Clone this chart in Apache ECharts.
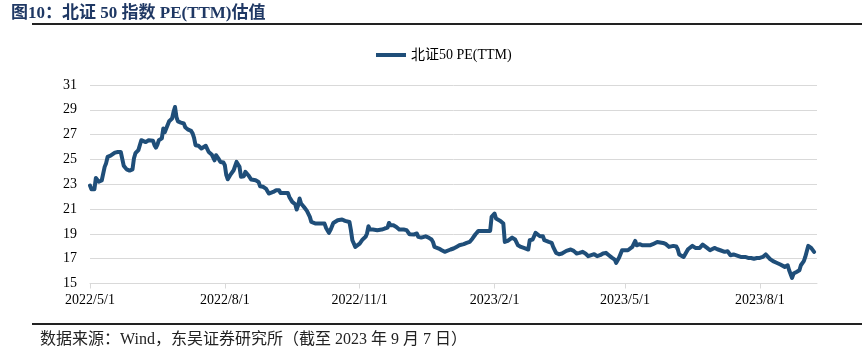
<!DOCTYPE html>
<html>
<head>
<meta charset="utf-8">
<script src="https://cdn.jsdelivr.net/npm/echarts@6/dist/echarts.min.js"></script>
<style>
html,body{margin:0;padding:0;background:#fff;}
#c{width:862px;height:359px;}
</style>
</head>
<body>
<div id="c"></div>
<script>
const titleText = '图10：北证 50 指数 PE(TTM)估值';
const sourceText = '数据来源：Wind，东吴证券研究所（截至 2023 年 9 月 7 日）';
const seriesName = '北证50 PE(TTM)';
const xTickDates = ['2022-05-01','2022-08-01','2022-11-01','2023-02-01','2023-05-01','2023-08-01'];
const yTicks = [15,17,19,21,23,25,27,29,31];

const dates = [
'2022-05-01','2022-05-02','2022-05-04','2022-05-05','2022-05-07','2022-05-09','2022-05-11','2022-05-12','2022-05-13','2022-05-15',
'2022-05-18','2022-05-20','2022-05-22','2022-05-23','2022-05-24','2022-05-26','2022-05-28','2022-05-30','2022-05-31','2022-06-01',
'2022-06-03','2022-06-04','2022-06-05','2022-06-06','2022-06-08','2022-06-10','2022-06-13','2022-06-14','2022-06-15','2022-06-16',
'2022-06-17','2022-06-19','2022-06-20','2022-06-21','2022-06-22','2022-06-24','2022-06-25','2022-06-26','2022-06-27','2022-06-28',
'2022-06-29','2022-06-30','2022-07-02','2022-07-04','2022-07-05','2022-07-07','2022-07-09','2022-07-10','2022-07-11','2022-07-12',
'2022-07-14','2022-07-16','2022-07-17','2022-07-19','2022-07-20','2022-07-21','2022-07-23','2022-07-24','2022-07-25','2022-07-26',
'2022-07-28','2022-07-29','2022-07-31','2022-08-01','2022-08-02','2022-08-03','2022-08-05','2022-08-07','2022-08-09','2022-08-10',
'2022-08-11','2022-08-12','2022-08-14','2022-08-15','2022-08-17','2022-08-18','2022-08-19','2022-08-22','2022-08-23','2022-08-24',
'2022-08-25','2022-08-27','2022-08-29','2022-08-31','2022-09-01','2022-09-03','2022-09-05','2022-09-07','2022-09-08','2022-09-11',
'2022-09-13','2022-09-14','2022-09-16','2022-09-18','2022-09-19','2022-09-20','2022-09-21','2022-09-22','2022-09-24','2022-09-25',
'2022-09-26','2022-09-28','2022-09-29','2022-10-02','2022-10-05','2022-10-08','2022-10-09','2022-10-11','2022-10-12','2022-10-14',
'2022-10-15','2022-10-17','2022-10-18','2022-10-20','2022-10-22','2022-10-23','2022-10-25','2022-10-26','2022-10-27','2022-10-29',
'2022-10-30','2022-11-01','2022-11-03','2022-11-05','2022-11-06','2022-11-07','2022-11-08','2022-11-10','2022-11-13','2022-11-14',
'2022-11-16','2022-11-18','2022-11-20','2022-11-21','2022-11-22','2022-11-24','2022-11-26','2022-11-28','2022-11-29','2022-12-01',
'2022-12-03','2022-12-04','2022-12-05','2022-12-08','2022-12-10','2022-12-11','2022-12-13','2022-12-16','2022-12-18','2022-12-20',
'2022-12-21','2022-12-22','2022-12-25','2022-12-27','2022-12-29','2022-12-30','2023-01-02','2023-01-04','2023-01-06','2023-01-08',
'2023-01-11','2023-01-13','2023-01-15','2023-01-17','2023-01-19','2023-01-21','2023-01-23','2023-01-27','2023-01-29','2023-01-30',
'2023-02-01','2023-02-02','2023-02-03','2023-02-05','2023-02-07','2023-02-08','2023-02-10','2023-02-11','2023-02-13','2023-02-15',
'2023-02-17','2023-02-19','2023-02-21','2023-02-22','2023-02-24','2023-02-25','2023-02-27','2023-03-01','2023-03-02','2023-03-04',
'2023-03-06','2023-03-07','2023-03-10','2023-03-12','2023-03-13','2023-03-15','2023-03-17','2023-03-19','2023-03-22','2023-03-23',
'2023-03-25','2023-03-27','2023-03-29','2023-03-31','2023-04-02','2023-04-04','2023-04-06','2023-04-08','2023-04-10','2023-04-12',
'2023-04-14','2023-04-16','2023-04-18','2023-04-20','2023-04-22','2023-04-24','2023-04-25','2023-04-27','2023-04-29','2023-05-01',
'2023-05-03','2023-05-04','2023-05-06','2023-05-07','2023-05-08','2023-05-09','2023-05-11','2023-05-13','2023-05-16','2023-05-18',
'2023-05-20','2023-05-23','2023-05-24','2023-05-27','2023-05-29','2023-05-31','2023-06-01','2023-06-03','2023-06-05','2023-06-06',
'2023-06-07','2023-06-10','2023-06-11','2023-06-13','2023-06-14','2023-06-16','2023-06-18','2023-06-19','2023-06-21','2023-06-23',
'2023-06-24','2023-06-26','2023-06-28','2023-06-29','2023-07-01','2023-07-03','2023-07-05','2023-07-06','2023-07-08','2023-07-10',
'2023-07-12','2023-07-14','2023-07-15','2023-07-17','2023-07-19','2023-07-22','2023-07-24','2023-07-26','2023-07-28','2023-07-30',
'2023-08-01','2023-08-03','2023-08-05','2023-08-06','2023-08-08','2023-08-10','2023-08-12','2023-08-15','2023-08-16','2023-08-18',
'2023-08-20','2023-08-21','2023-08-23','2023-08-24','2023-08-26','2023-08-28','2023-08-29','2023-08-31','2023-09-01','2023-09-02',
'2023-09-03','2023-09-05','2023-09-06','2023-09-07'
];

const pe = [
22.9,22.6,22.6,23.5,23.2,23.3,24.4,24.7,25.2,25.3,
25.55,25.6,25.6,25.5,24.5,24.2,24.1,24.2,25.1,25.5,
25.75,25.8,26.55,26.6,26.4,26.55,26.5,26.15,25.95,26.2,
26.55,26.7,27.5,27.2,27.5,28.08,28.24,28.3,28.83,29.23,
28.4,28.07,27.97,27.9,27.6,27.4,27.3,27.1,26.73,26.15,
26.1,25.88,26.0,26.1,25.95,25.6,25.4,25.35,24.93,25.34,
25.0,24.8,24.75,24.53,23.73,23.4,23.8,24.13,24.8,24.88,
24.4,23.6,23.65,24.0,23.73,23.65,23.38,23.32,23.38,23.19,
22.84,22.8,22.65,22.25,22.2,22.38,22.52,22.52,22.3,22.3,
22.3,21.98,21.58,21.39,20.96,21.3,21.85,21.45,21.17,21.04,
20.85,20.37,19.96,19.83,19.83,19.83,19.5,19.08,19.3,19.88,
19.96,20.1,19.96,20.16,20.05,20.16,19.96,19.3,18.49,17.95,
17.9,18.22,18.55,18.76,19.03,19.62,19.35,19.35,19.3,19.35,
19.35,19.43,19.5,19.88,19.7,19.7,19.56,19.35,19.43,19.35,
19.3,19.2,18.97,18.95,19.03,18.76,18.7,18.8,18.7,18.55,
18.35,17.95,17.82,17.68,17.55,17.68,17.74,17.82,17.95,18.08,
18.17,18.27,18.35,18.63,18.97,19.24,19.24,19.24,19.24,20.37,
20.64,20.24,20.16,20.04,19.83,18.35,18.43,18.43,18.7,18.55,
18.08,17.95,17.87,17.82,17.74,18.49,18.55,19.08,18.97,18.81,
18.81,18.49,18.35,18.27,17.95,17.47,17.36,17.42,17.63,17.47,
17.74,17.63,17.42,17.47,17.55,17.42,17.2,17.28,17.36,17.2,
17.28,17.42,17.47,17.28,17.09,16.93,16.66,17.09,17.68,17.68,
17.68,17.82,17.95,17.9,18.43,18.08,18.17,18.08,18.08,18.08,
18.17,18.35,18.22,18.27,18.17,17.95,17.87,18.03,17.98,17.76,
17.34,17.14,17.14,17.76,17.68,18.03,17.87,18.03,17.87,18.14,
18.03,17.87,17.68,17.82,17.87,17.76,17.68,17.74,17.55,17.6,
17.28,17.34,17.34,17.22,17.14,17.14,17.06,17.06,17.0,17.06,
17.06,17.14,17.34,17.22,16.96,16.8,16.69,16.53,16.53,16.34,
16.47,16.07,15.45,15.8,15.93,16.07,16.47,16.8,17.14,17.14,
18.03,17.87,17.76,17.55
];

function ts(s){const p=s.split('-').map(Number);return Date.UTC(p[0],p[1]-1,p[2]);}
const seriesData = dates.map((d,i)=>[ts(d), pe[i]]);
const tickValues = xTickDates.map(ts);

const serif = "'Liberation Serif','Times New Roman','Noto Sans CJK SC',serif";
const lineColor = '#1f4e79';

const chart = echarts.init(document.getElementById('c'), null, {renderer:'canvas'});
chart.setOption({
  animation:false,
  backgroundColor:'#fff',
  title:{
    text:titleText, left:6, top:0,
    textStyle:{fontFamily:serif, fontSize:17, fontWeight:'bold', color:'#1f3864'}
  },
  legend:{
    left:376, top:48, padding:0, itemWidth:30, itemHeight:4, itemGap:10,
    textStyle:{fontFamily:serif, fontSize:14, color:'#000'},
    data:[{name:seriesName, icon:'rect'}]
  },
  grid:{left:90, right:45, top:85, bottom:75.5, containLabel:false},
  xAxis:{
    type:'value',
    min:ts('2022-05-01'), max:ts('2023-09-09'),
    splitLine:{show:false},
    axisLine:{show:true, lineStyle:{color:'#d9d9d9', width:1}},
    axisTick:{show:true, customValues:tickValues, length:5, inside:false, lineStyle:{color:'#d9d9d9'}},
    axisLabel:{
      customValues:tickValues, margin:10, showMinLabel:true, showMaxLabel:true,
      fontFamily:serif, fontSize:14, color:'#000',
      formatter:function(v){const d=new Date(v);return d.getUTCFullYear()+'/'+(d.getUTCMonth()+1)+'/'+d.getUTCDate();}
    }
  },
  yAxis:{
    type:'value', min:yTicks[0], max:yTicks[yTicks.length-1], interval:2,
    axisLine:{show:false}, axisTick:{show:false},
    splitLine:{show:true, lineStyle:{color:'#d9d9d9', width:1}},
    axisLabel:{fontFamily:serif, fontSize:14, color:'#000', margin:13}
  },
  series:[{
    name:seriesName, type:'line', data:seriesData,
    showSymbol:false, symbol:'none',
    lineStyle:{color:lineColor, width:4, join:'round', cap:'round'},
    itemStyle:{color:lineColor}
  }],
  graphic:[
    {type:'line', shape:{x1:32,y1:24,x2:862,y2:24}, style:{stroke:'#222', lineWidth:2}},
    {type:'line', shape:{x1:32,y1:324,x2:862,y2:324}, style:{stroke:'#222', lineWidth:2}},
    {type:'text', left:40, top:332, style:{text:sourceText, font:"16px 'Liberation Serif','Noto Sans CJK SC',serif", fill:'#222'}}
  ]
});
</script>
</body>
</html>
